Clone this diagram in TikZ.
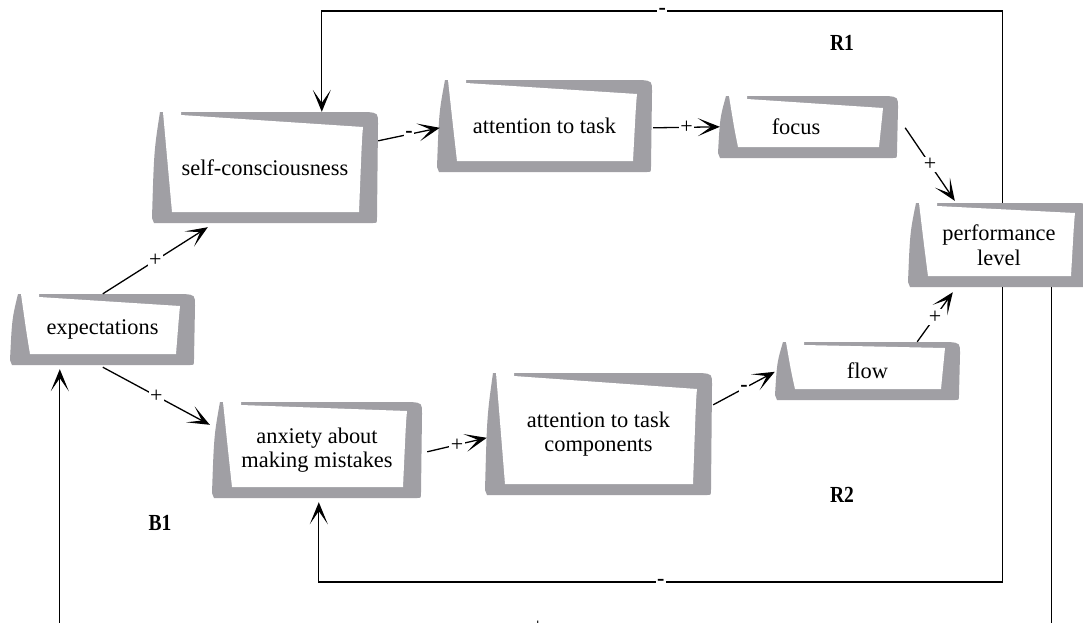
\documentclass[tikz,border=0pt]{standalone}
\usepackage{fontspec}
\setmainfont{Liberation Serif}
\usetikzlibrary{arrows.meta}
\definecolor{signgray}{RGB}{160,159,164}
\tikzset{
  boxtext/.style={align=center, inner sep=0pt, font=\fontsize{22.4}{24.5}\selectfont},
  link/.style={line width=1.3pt, -{Stealth[length=22pt,width=18pt,inset=13pt]}},
  sgn/.style={fill=white, inner sep=1.5pt, font=\fontsize{22}{22}\selectfont},
  negsgn/.style={fill=white, inner sep=1.5pt, text height=6pt, text depth=0pt,
    font=\bfseries\fontsize{22}{22}\selectfont},
  looptag/.style={inner sep=0pt, font=\bfseries\fontsize{23}{23}\selectfont}
}
% Curled-paper sign: #1 name, #2 left, #3 top, #4 right, #5 bottom, #6 depth of the top band, #7 text
\newcommand{\signbox}[7]{%
  \fill[signgray] ({#2+8},#3) .. controls ({#2+2},{#3+0.35*(#5-#3)}) .. ({#2},{#5-5})
     -- ({#2+2},#5) -- ({#4-5},#5) .. controls ({#4-1},#5) .. ({#4-1},{#5-6})
     -- ({#4},{#3+12}) .. controls ({#4},{#3+1}) .. ({#4-11},#3) -- ({#2+29},#3) -- cycle;
  \fill[white] ({#2+11},#3) -- ({#2+29},#3) -- ({#2+29},{#3+3}) -- ({#4-15},{#3+#6})
     .. controls ({#4-16},{#3+#6+10}) .. ({#4-19},{#5-11}) -- ({#2+20},{#5-11})
     .. controls ({#2+16},{#5-0.5*(#5-#3)}) .. ({#2+11},#3) -- cycle;
  \node[boxtext, minimum width={(#4-#2)*1pt}, minimum height={(#5-#3)*1pt}] (#1)
     at ({(#2+#4)/2},{(#3+#5)/2}) {#7};
}
\begin{document}
\begin{tikzpicture}[x=1pt,y=-1pt]
\useasboundingbox (0,0) rectangle (1083,622);
\fill[white] (0,0) rectangle (1083,622);
\clip (0,0) rectangle (1083,622);

% variables
\signbox{exp}{10}{294}{195}{365}{12}{expectations}
\signbox{self}{152}{112}{378}{223}{15}{self-consciousness}
\signbox{att}{437}{80}{652}{172}{14}{attention to task}
\signbox{focus}{718}{96}{898}{158}{12}{\hspace*{-24pt}focus}
\signbox{perf}{908}{203}{1090}{287}{10}{performance\\level}
\signbox{anx}{212}{402}{422}{498}{9}{anxiety about\\making mistakes}
\signbox{comp}{485}{373}{712}{495}{16}{attention to task\\components}
\signbox{flow}{775}{342}{960}{400}{6}{flow}

% causal links
\draw[link] ([shift={(93,0)}]exp.north west) -- node[sgn]{+} ([shift={(56,4)}]self.south west);
\draw[link] ([shift={(93,2)}]exp.south west) -- node[sgn]{+} ([shift={(-2,23)}]anx.north west);
\draw[link] ([shift={(0,29)}]self.north east) -- node[negsgn]{-} ([shift={(3,48)}]att.north west);
\draw[link] ([shift={(1,48)}]att.north east) -- node[sgn]{+} ([shift={(2,31)}]focus.north west);
\draw[link] ([shift={(7,32)}]focus.north east) -- node[sgn]{+} ([shift={(47,-2)}]perf.north west);
\draw[link] ([shift={(-43,0)}]flow.north east) -- node[sgn]{+} ([shift={(45,5)}]perf.south west);
\draw[link] ([shift={(5,50)}]anx.north east) -- node[sgn]{+} ([shift={(2,65)}]comp.north west);
\draw[link] ([shift={(1,32)}]comp.north east) -- node[negsgn]{-} ([shift={(0,30)}]flow.north west);

% feedback loops
\coordinate (r1out) at ([shift={(95,0)}]perf.north west);
\coordinate (r1in) at ([shift={(170,0)}]self.north west);
\coordinate (r1y) at (0,11);
\draw[link] (r1out) -- (r1out |- r1y) -- node[negsgn]{-} (r1in |- r1y) -- (r1in);

\coordinate (r2out) at ([shift={(95,0)}]perf.south west);
\coordinate (r2in) at ([shift={(107,4)}]anx.south west);
\coordinate (r2y) at (0,582);
\draw[link] (r2out) -- (r2out |- r2y) -- node[negsgn]{-} (r2in |- r2y) -- (r2in);

\coordinate (b1out) at ([shift={(144,0)}]perf.south west);
\coordinate (b1in) at ([shift={(50,4)}]exp.south west);
\coordinate (b1y) at (0,627);
\draw[link] (b1out) -- (b1out |- b1y) -- node[sgn,pos=0.518]{+} (b1in |- b1y) -- (b1in);

% loop names
\node[looptag] (r1) at (842,43) {\scalebox{0.85}[1]{R1}};
\node[looptag] (r2) at (842,495) {\scalebox{0.85}[1]{R2}};
\node[looptag] (b1) at (160,523) {\scalebox{0.85}[1]{B1}};
\end{tikzpicture}
\end{document}
